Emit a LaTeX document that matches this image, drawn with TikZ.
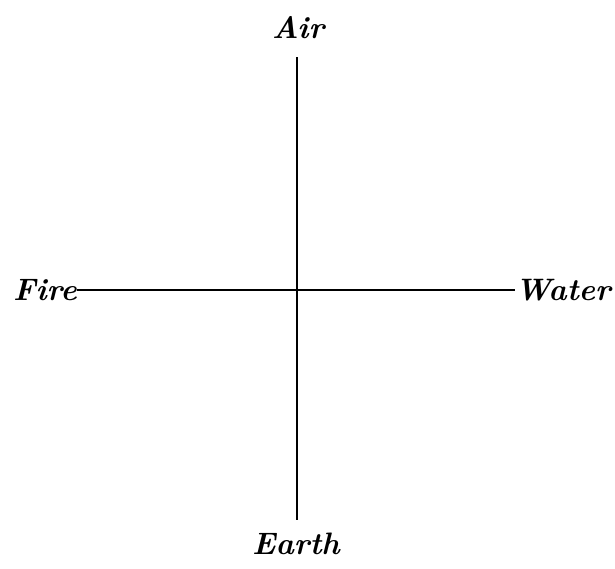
\documentclass[tikz,border=0pt]{standalone}
\usepackage{fontspec}
\begin{document}
\begin{tikzpicture}[x=1pt,y=-1pt,
  lbl/.style={font=\fontsize{31}{36}\selectfont\bfseries\itshape, inner sep=0pt},
  axis/.style={line width=1.6pt}]
\useasboundingbox (0,0) rectangle (615,568);
\node[lbl] (air) at (298,28) {Air};
\node[lbl, anchor=east] (fire) at (77,290) {Fire};
\node[lbl, anchor=west] (water) at (515,290) {Water};
\node[lbl] (earth) at (296,544) {Earth};
\coordinate (top) at (297,57);
\coordinate (bot) at (297,520);
\draw[axis] (top) -- (bot);
\draw[axis] (fire.east) -- (water.west);
\end{tikzpicture}
\end{document}
